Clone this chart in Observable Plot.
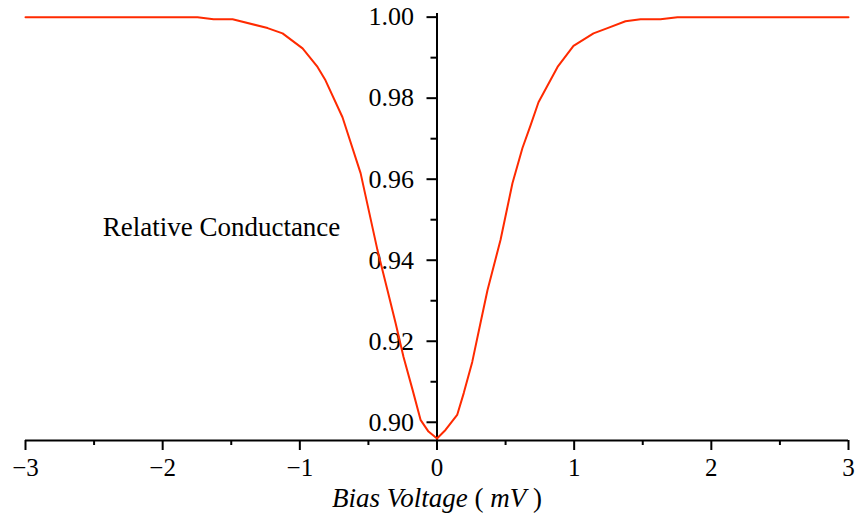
<!DOCTYPE html>
<html><head>
<meta charset="utf-8">
<script src="https://cdn.jsdelivr.net/npm/d3@7"></script>
<script src="https://cdn.jsdelivr.net/npm/@observablehq/plot@0.6"></script>
<style>body{margin:0;background:#fff}</style>
</head><body><div id="chart"></div>
<script>
const voltage = [-3.00, -1.746, -1.629, -1.490, -1.235, -1.126, -0.980, -0.871, -0.813, -0.689, -0.557, -0.434, -0.361, -0.302, -0.244, -0.178, -0.120, -0.062, 0,
  0.062, 0.147, 0.195, 0.257, 0.317, 0.368, 0.463, 0.550, 0.623, 0.682, 0.740, 0.879, 0.995, 1.141, 1.243, 1.374, 1.484, 1.629, 1.753, 3.00];
const conductance = [1.0000, 1.0000, 0.9995, 0.9995, 0.9973, 0.9960, 0.9923, 0.9877, 0.9844, 0.9753, 0.9615, 0.9425, 0.9326, 0.9245, 0.9161, 0.9080, 0.9006, 0.8977, 0.8960,
  0.8981, 0.9018, 0.9072, 0.9149, 0.9245, 0.9326, 0.9450, 0.9590, 0.9677, 0.9733, 0.9790, 0.9877, 0.9929, 0.9960, 0.9973, 0.9990, 0.9995, 0.9995, 1.0000, 1.0000];
const xMajorTicks = [-3, -2, -1, 0, 1, 2, 3];
const xMinorTicks = [-2.5, -1.5, -0.5, 0.5, 1.5, 2.5];
const yMajorTicks = [0.90, 0.92, 0.94, 0.96, 0.98, 1.00];
const yMinorTicks = [0.91, 0.93, 0.95, 0.97, 0.99];
const yLabel = "Relative Conductance";
const xLabelParts = [["Bias Voltage ", "italic"], ["(", "normal"], [" mV", "italic"], [" )", "normal"]];
const xLabel = xLabelParts.map(p => p[0]).join("");

const width = 855, height = 514;
const marginLeft = 25, marginRight = 7, marginTop = 13, marginBottom = 74;
const xDomain = [-3, 3];
const yDomain = [0.8955, 1.0009];
const data = voltage.map((v, i) => ({v, c: conductance[i]}));
const x0px = marginLeft + (0 - xDomain[0]) / (xDomain[1] - xDomain[0]) * (width - marginLeft - marginRight);
const shift = x0px - marginLeft;
const lineColor = "#ff2a00";
const fmtX = d => (d < 0 ? "\u2212" : "") + Math.abs(d);

const chart = Plot.plot({
  width, height, marginLeft, marginRight, marginTop, marginBottom,
  style: {fontFamily: "'Liberation Serif', 'Times New Roman', serif", fontSize: "26px", color: "#000", background: "#fff"},
  x: {domain: xDomain},
  y: {domain: yDomain},
  marks: [
    Plot.ruleY([yDomain[0]], {stroke: "#000", strokeWidth: 2}),
    Plot.ruleX([0], {stroke: "#000", strokeWidth: 2}),
    Plot.axisX({ticks: xMajorTicks, anchor: "bottom", tickSize: 10, tickPadding: 8, strokeWidth: 2, tickFormat: fmtX, label: null, fontSize: 25}),
    Plot.axisX({ticks: xMinorTicks, anchor: "bottom", tickSize: 5, strokeWidth: 2, tickFormat: () => "", label: null}),
    Plot.axisY({ticks: yMajorTicks, anchor: "left", dx: shift, tickSize: 10, tickPadding: 13, strokeWidth: 2, tickFormat: d3.format(".2f"), label: null, fontSize: 26}),
    Plot.axisY({ticks: yMinorTicks, anchor: "left", dx: shift, tickSize: 6, strokeWidth: 2, tickFormat: () => "", label: null}),
    Plot.line(data, {x: "v", y: "c", stroke: lineColor, strokeWidth: 2}),
    Plot.text([yLabel], {frameAnchor: "left", dx: 196, textAnchor: "middle", fontSize: 27}),
    Plot.text([xLabel], {frameAnchor: "bottom", dy: 66, textAnchor: "middle", fontSize: 27, className: "xlab"})
  ]
});
// style the x label with upright parentheses and italic words
d3.select(chart).selectAll("g.xlab text").each(function() {
  const t = d3.select(this);
  t.text(null);
  xLabelParts.forEach(([s, st]) => t.append("tspan").attr("font-style", st).text(s));
});
document.getElementById("chart").appendChild(chart);
</script>
</body></html>
